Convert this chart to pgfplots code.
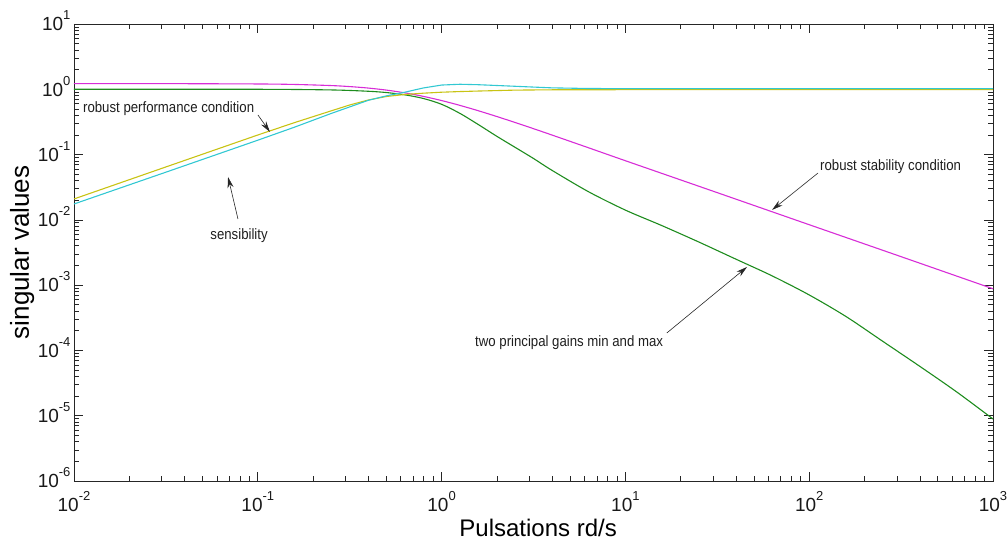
\documentclass[border=0pt]{standalone}
\usepackage{fontspec}
\setmainfont{Liberation Sans}
\newfontfamily\narrowfont[FakeStretch=0.88]{Liberation Sans}
\usepackage{pgfplots}
\pgfplotsset{compat=1.18}
\usetikzlibrary{arrows.meta}
\newcommand{\tl}[1]{10\raisebox{11pt}{\fontsize{13}{13}\selectfont#1}}
\definecolor{cmag}{RGB}{215,45,215}
\definecolor{cgrn}{RGB}{30,140,30}
\definecolor{ccya}{RGB}{50,200,210}
\definecolor{cyel}{RGB}{200,195,20}
\begin{document}
\begin{tikzpicture}
\begin{axis}[
  xmode=log, ymode=log,
  xmin=0.01, xmax=1000, ymin=1e-6, ymax=10,
  width=919pt, height=457pt, scale only axis,
  axis line style={black!85, line width=0.9pt},
  tick align=inside,
  major tick length=9pt, minor tick length=5pt,
  tick style={black!85, line width=0.7pt},
  xtick={0.01,0.1,1,10,100,1000},
  xticklabels={\tl{-2},\tl{-1},\tl{0},\tl{1},\tl{2},\tl{3}},
  ytick={1e-6,1e-5,1e-4,1e-3,1e-2,1e-1,1,10},
  yticklabels={\tl{-6},\tl{-5},\tl{-4},\tl{-3},\tl{-2},\tl{-1},\tl{0},\tl{1}},
  minor xtick={0.02,0.03,0.04,0.05,0.06,0.07,0.08,0.09,0.2,0.3,0.4,0.5,0.6,0.7,0.8,0.9,2,3,4,5,6,7,8,9,20,30,40,50,60,70,80,90,200,300,400,500,600,700,800,900},
  minor ytick={2e-6,3e-6,4e-6,5e-6,6e-6,7e-6,8e-6,9e-6,2e-5,3e-5,4e-5,5e-5,6e-5,7e-5,8e-5,9e-5,2e-4,3e-4,4e-4,5e-4,6e-4,7e-4,8e-4,9e-4,2e-3,3e-3,4e-3,5e-3,6e-3,7e-3,8e-3,9e-3,0.02,0.03,0.04,0.05,0.06,0.07,0.08,0.09,0.2,0.3,0.4,0.5,0.6,0.7,0.8,0.9,2,3,4,5,6,7,8,9},
  ticklabel style={font=\fontsize{19}{19}\selectfont, text=black!90},
  xticklabel style={anchor=base, yshift=-30pt},
  yticklabel style={anchor=base east, yshift=-6.8pt},
  every axis x label/.style={at={(axis description cs:0.505,-0.1225)}, anchor=base},
  every axis y label/.style={at={(axis description cs:-0.049,0.5)}, rotate=90, anchor=base},
  xlabel={\fontsize{24}{24}\selectfont Pulsations rd/s},
  ylabel={\fontsize{26}{26}\selectfont singular values},
  clip=true,
]
\addplot[cmag, line width=1.1pt, smooth] coordinates {
(0.01,1.22) (0.0316,1.22) (0.1,1.206) (0.1585,1.186) (0.2512,1.140) (0.3162,1.100) (0.3981,1.045) (0.5012,0.9716) (0.631,0.8818) (0.7943,0.7797) (1,0.672) (1.259,0.5664) (1.585,0.469) (1.995,0.3832) (2.512,0.310) (3.162,0.2493) (3.981,0.1995) (6.31,0.1269) (10,0.0805) (31.62,0.0261) (100,0.00843) (316.2,0.00273) (1000,0.00088)
};
\addplot[cgrn, line width=1.1pt, smooth] coordinates {
(0.01,1) (0.1,1) (0.2512,0.977) (0.3981,0.933) (0.5012,0.891) (0.631,0.822) (0.7943,0.724) (1,0.589) (1.259,0.427) (1.585,0.288) (1.995,0.191) (2.512,0.129) (3.162,0.0871) (3.981,0.0575) (6.31,0.0269) (10,0.0141) (15.85,0.00813) (25.12,0.00457) (39.81,0.00251) (63.1,0.00138) (100,0.000708) (158.5,0.000331) (251.2,0.000138) (398.1,5.75e-5) (631,2.34e-5) (1000,8.91e-6)
};
\addplot[cyel, line width=1.1pt] coordinates {
(0.01,0.0209) (0.0316,0.0646) (0.1,0.1995) (0.1585,0.309) (0.2512,0.468) (0.3162,0.575) (0.3981,0.684) (0.5012,0.776) (0.631,0.832) (0.7943,0.871) (1,0.902) (1.259,0.923) (1.585,0.94) (1.995,0.955) (2.512,0.971) (3.981,0.982) (10,0.986) (1000,0.986)
};
\addplot[ccya, line width=1.1pt] coordinates {
(0.01,0.0175) (0.0316,0.0537) (0.1,0.166) (0.1585,0.263) (0.2512,0.427) (0.3162,0.537) (0.3981,0.676) (0.5012,0.794) (0.631,0.902) (0.7943,1.047) (1,1.161) (1.259,1.194) (1.585,1.175) (1.995,1.143) (2.512,1.112) (3.162,1.081) (3.981,1.052) (6.31,1.028) (10,1.023) (1000,1.023)
};
\begin{scope}[every node/.style={font=\narrowfont\fontsize{15}{15}\selectfont, text=black!88, inner sep=0pt}]
\node[anchor=west] at (axis cs:0.01119,0.499) {robust performance condition};
\node[anchor=center] at (axis cs:0.0791,0.00566) {sensibility};
\node[anchor=west] at (axis cs:114.5,0.0646) {robust stability condition};
\node[anchor=west] at (axis cs:1.52,1.30e-4) {two principal gains min and max};
\end{scope}
\begin{scope}[-{Stealth[length=11pt,width=6pt]}, black!85, line width=0.6pt]
\draw (axis cs:0.1002,0.404) -- (axis cs:0.1164,0.222);
\draw (axis cs:0.078,0.01032) -- (axis cs:0.0689,0.0454);
\draw (axis cs:111.7,0.0522) -- (axis cs:62.8,0.0142);
\draw (axis cs:16.8,1.85e-4) -- (axis cs:45.9,1.90e-3);
\end{scope}
\end{axis}
\pgfresetboundingbox
\path[use as bounding box] (-74pt,-62pt) rectangle (934pt,481pt);
\end{tikzpicture}
\end{document}
